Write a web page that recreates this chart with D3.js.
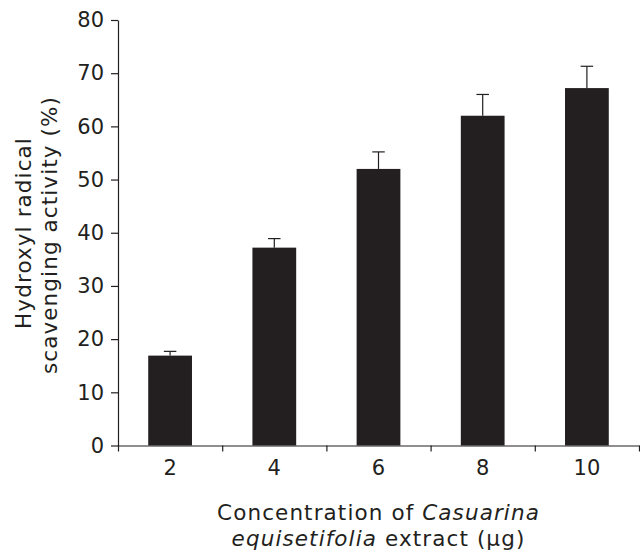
<!DOCTYPE html>
<html>
<head>
<meta charset="utf-8">
<script src="https://cdn.jsdelivr.net/npm/d3@7"></script>
<style>
  body { margin: 0; background: #fff; }
  text { font-family: "DejaVu Sans", Verdana, sans-serif; fill: #231f20; }
</style>
</head>
<body>
<div id="chart-area"></div>
<script>
// Data
var concentrations = ["2", "4", "6", "8", "10"];
var activity = [16.9, 37.2, 52.0, 62.0, 67.2];
var errors = [0.8, 1.7, 3.2, 4.0, 4.1];
var yTicks = [0, 10, 20, 30, 40, 50, 60, 70, 80];

var data = concentrations.map(function(c, i) {
    return { conc: c, value: activity[i], err: errors[i] };
});

var margin = { left: 118, right: 1, top: 20, bottom: 107.5 };
var width = 640 - margin.left - margin.right,
    height = 553 - margin.top - margin.bottom;

var ink = "#231f20";

var svg = d3.select("#chart-area")
    .append("svg")
        .attr("width", 640)
        .attr("height", 553);

var g = svg.append("g")
    .attr("transform", "translate(" + margin.left + "," + margin.top + ")");

// Scales
var x = d3.scaleBand()
    .domain(concentrations)
    .range([0, width])
    .paddingInner(0.58)
    .paddingOuter(0.29);

var y = d3.scaleLinear()
    .domain([0, 80])
    .range([height, 0]);

// Bars
g.selectAll("rect.bar")
    .data(data)
    .enter()
    .append("rect")
        .attr("class", "bar")
        .attr("x", function(d) { return x(d.conc); })
        .attr("y", function(d) { return y(d.value); })
        .attr("width", x.bandwidth())
        .attr("height", function(d) { return height - y(d.value); })
        .attr("fill", ink);

// Error bars (upper only)
var capW = 12.5;
var eb = g.selectAll("g.err")
    .data(data)
    .enter()
    .append("g")
        .attr("class", "err")
        .attr("stroke", ink)
        .attr("stroke-width", 1.2);

eb.append("line")
    .attr("x1", function(d) { return x(d.conc) + x.bandwidth() / 2; })
    .attr("x2", function(d) { return x(d.conc) + x.bandwidth() / 2; })
    .attr("y1", function(d) { return y(d.value); })
    .attr("y2", function(d) { return y(d.value + d.err); });

eb.append("line")
    .attr("x1", function(d) { return x(d.conc) + x.bandwidth() / 2 - capW / 2; })
    .attr("x2", function(d) { return x(d.conc) + x.bandwidth() / 2 + capW / 2; })
    .attr("y1", function(d) { return y(d.value + d.err); })
    .attr("y2", function(d) { return y(d.value + d.err); });

// Y axis
var yAxis = g.append("g")
    .call(d3.axisLeft(y).tickValues(yTicks).tickSize(7).tickSizeOuter(0).tickPadding(7));
yAxis.selectAll("text").attr("font-size", "21px");

// X axis: tick marks sit at the band boundaries
var xEdge = d3.scaleLinear().domain([0, concentrations.length]).range([0, width]);
g.append("g")
    .attr("transform", "translate(0," + height + ")")
    .call(d3.axisBottom(xEdge).ticks(concentrations.length).tickSize(6).tickSizeOuter(0).tickFormat(""));

// X labels at band centres
var xLabels = g.append("g")
    .attr("transform", "translate(0," + height + ")")
    .call(d3.axisBottom(x).tickSize(0).tickPadding(15));
xLabels.select(".domain").remove();
xLabels.selectAll("text").attr("font-size", "21px");

svg.selectAll(".domain, .tick line")
    .attr("stroke", ink)
    .attr("stroke-width", 1.2);
svg.selectAll(".tick text")
    .attr("fill", ink)
    .style("font-family", "DejaVu Sans, Verdana, sans-serif");

// X title
var xTitle = svg.append("text")
    .attr("text-anchor", "middle")
    .attr("font-size", "21.5px")
    .attr("letter-spacing", "1.1px");
xTitle.append("tspan")
    .attr("x", margin.left + width / 2)
    .attr("y", 520)
    .text("Concentration of ")
  .append("tspan")
    .attr("font-style", "italic")
    .text("Casuarina");
var l2 = xTitle.append("tspan")
    .attr("x", margin.left + width / 2)
    .attr("y", 546);
l2.append("tspan").attr("font-style", "italic").text("equisetifolia");
l2.append("tspan").text(" extract (\u00b5g)");

// Y title
var yTitle = svg.append("text")
    .attr("text-anchor", "middle")
    .attr("font-size", "21.5px")
    .attr("letter-spacing", "1.1px")
    .attr("transform", "rotate(-90)");
yTitle.append("tspan")
    .attr("x", -233)
    .attr("y", 31)
    .text("Hydroxyl radical");
yTitle.append("tspan")
    .attr("x", -235)
    .attr("y", 57)
    .text("scavenging activity (%)");
</script>
</body>
</html>
